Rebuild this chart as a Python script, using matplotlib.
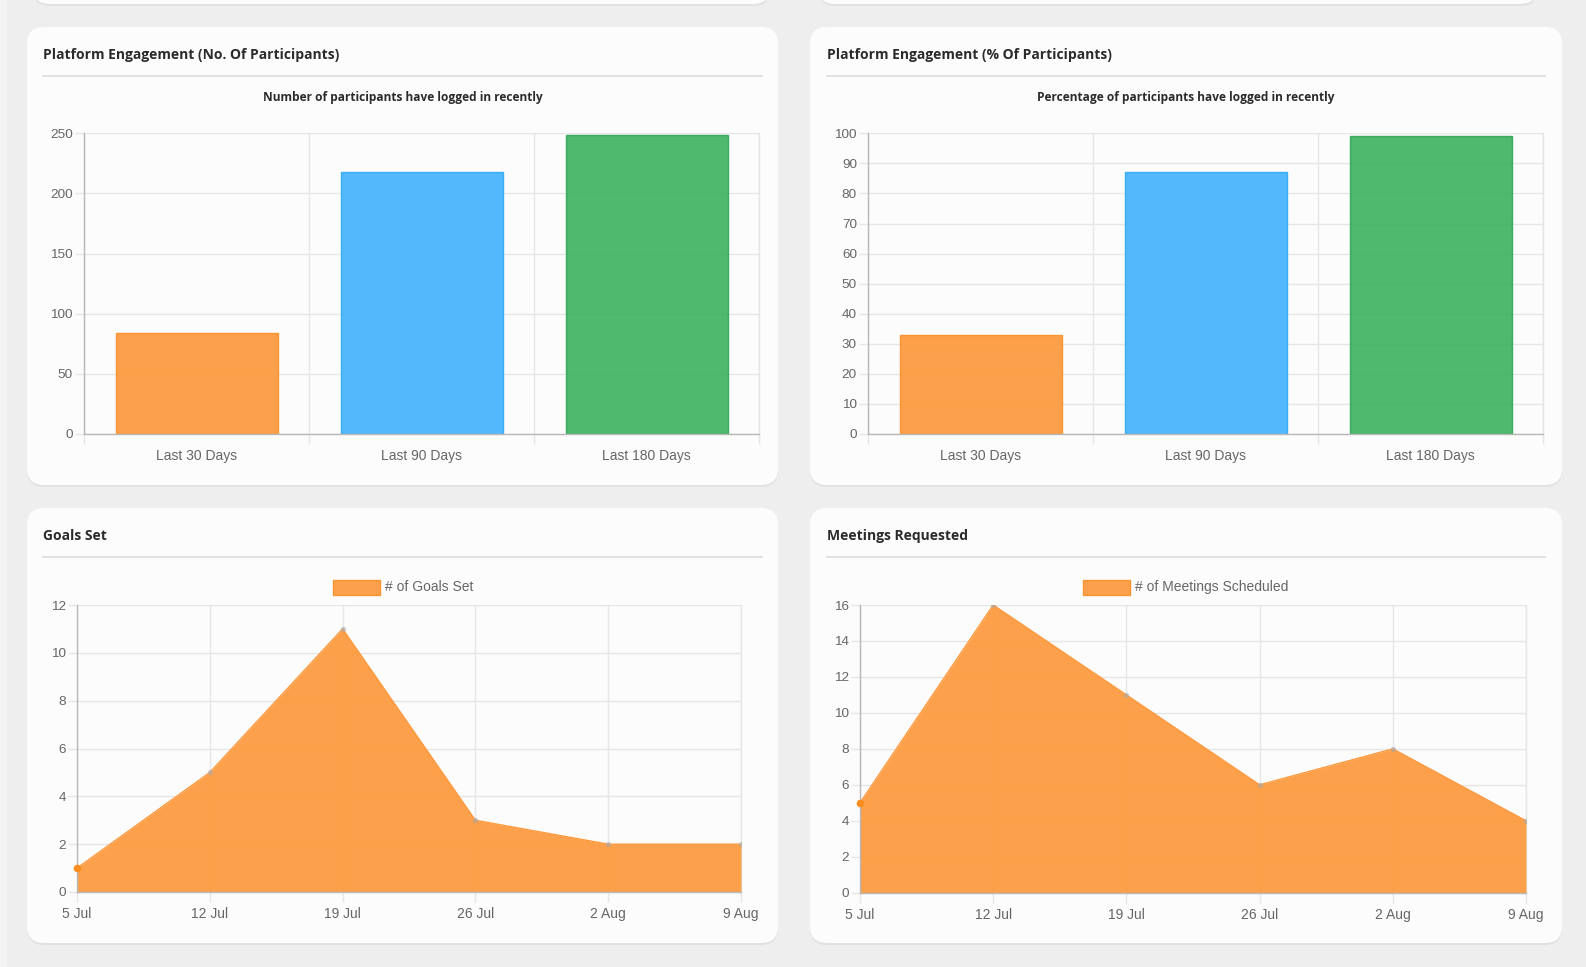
import matplotlib
matplotlib.use('Agg')
from matplotlib import pyplot as plt
from matplotlib.patches import FancyBboxPatch, Rectangle

# dashboard data
bar_labels = ['Last 30 Days', 'Last 90 Days', 'Last 180 Days']
logged_counts = [84, 218, 249]
logged_pct = [33, 87, 99]
bar_colors = ['#fd9432', '#3db0fd', '#37b05a']
bar_edges = ['#fd8c25', '#2ea6f7', '#2ea552']

week_labels = ['5 Jul', '12 Jul', '19 Jul', '26 Jul', '2 Aug', '9 Aug']
goals_set = [1, 5, 11, 3, 2, 2]
meetings_scheduled = [5, 16, 11, 6, 8, 4]

W, H = 1586, 967
BG = '#eeeeee'
CARD = '#fcfcfc'
GRID = '#e6e6e6'
AXIS = '#b8b8b8'
TICK_TXT = '#666666'
ORANGE = '#fd9432'

plt.rcParams['font.family'] = ['Liberation Sans', 'DejaVu Sans']

fig = plt.figure(figsize=(W / 100, H / 100), dpi=100)
fig.patch.set_facecolor(BG)

# background layer in pixel coordinates
bg = fig.add_axes([0, 0, 1, 1], zorder=0)
bg.set_xlim(0, W)
bg.set_ylim(H, 0)
bg.axis('off')
bg.add_patch(Rectangle((0, 0), 7, H, facecolor='#f4f4f4', edgecolor='none'))


def card(x0, y0, x1, y1):
    bg.add_patch(FancyBboxPatch((x0, y0 + 2), x1 - x0, y1 - y0,
                                boxstyle='round,pad=0,rounding_size=17',
                                facecolor='#d9d9d9', edgecolor='none', alpha=0.6))
    bg.add_patch(FancyBboxPatch((x0, y0), x1 - x0, y1 - y0,
                                boxstyle='round,pad=0,rounding_size=17',
                                facecolor=CARD, edgecolor='none'))


# bottoms of the row above
card(33, -60, 770, 4)
card(818, -60, 1537, 4)

cards = [(27, 27, 778, 485), (810, 27, 1562, 485),
         (27, 508, 778, 943), (810, 508, 1562, 943)]
for c in cards:
    card(*c)

title_font = dict(family=['Open Sans', 'DejaVu Sans'], fontweight='bold', color='#2b2b2b')


def header(x0, x1, y_text, y_line, text):
    bg.text(x0, y_text, text, fontsize=10, ha='left', va='center', **title_font)
    bg.plot([x0, x1], [y_line, y_line], color='#dcdcdc', lw=1.2)


header(43, 762, 55, 76, 'Platform Engagement (No. Of Participants)')
header(827, 1545, 55, 76, 'Platform Engagement (% Of Participants)')
header(43, 762, 536, 557, 'Goals Set')
header(827, 1545, 536, 557, 'Meetings Requested')

bg.text(403, 98, 'Number of participants have logged in recently', fontsize=8.6,
        ha='center', va='center', **title_font)
bg.text(1186, 98, 'Percentage of participants have logged in recently', fontsize=8.6,
        ha='center', va='center', **title_font)


def legend(cx, text):
    box_w, box_h, gap = 47, 15, 5
    label = bg.text(0, 587, text, fontsize=10, color=TICK_TXT, ha='left', va='center')
    fig.canvas.draw()
    tw = label.get_window_extent().width
    left = cx - (box_w + gap + tw) / 2
    bg.add_patch(Rectangle((left, 580), box_w, box_h, facecolor=ORANGE, alpha=0.88,
                           edgecolor='#fd8c25', lw=1))
    label.set_x(left + box_w + gap)


legend(403, '# of Goals Set')
legend(1186, '# of Meetings Scheduled')


def px_axes(x0, y0, x1, y1):
    ax = fig.add_axes([x0 / W, 1 - y1 / H, (x1 - x0) / W, (y1 - y0) / H], zorder=1)
    ax.set_facecolor('none')
    for side in ['top', 'right']:
        ax.spines[side].set_visible(False)
    for side in ['left', 'bottom']:
        ax.spines[side].set_color(AXIS)
        ax.spines[side].set_linewidth(1)
    ax.tick_params(axis='y', length=6.5, width=1, color=GRID, pad=1.5,
                   labelsize=9.7, labelcolor=TICK_TXT)
    ax.grid(True, color=GRID, lw=1)
    ax.set_axisbelow(True)
    return ax


def bar_chart(rect, values, ymax, ystep):
    ax = px_axes(*rect)
    pos = [i + 0.5 for i in range(len(values))]
    ax.bar(pos, values, width=0.72, color=bar_colors, edgecolor=bar_edges, lw=1,
           alpha=0.88, zorder=2)
    ax.set_xlim(0, len(values))
    ax.set_ylim(0, ymax)
    ax.set_yticks(range(0, ymax + 1, ystep))
    ax.set_xticks(range(len(values) + 1))
    ax.set_xticklabels([])
    ax.set_xticks(pos, minor=True)
    ax.set_xticklabels(bar_labels, minor=True)
    ax.tick_params(axis='x', which='major', length=7.5, width=1, color=GRID)
    ax.tick_params(axis='x', which='minor', length=0, pad=11, labelsize=10,
                   labelcolor=TICK_TXT)
    ax.plot([len(values)] * 2, [0, ymax], color=GRID, lw=1, zorder=1, clip_on=False)
    return ax


bar_chart((84, 133.3, 759, 434), logged_counts, 250, 50)
bar_chart((868, 133.3, 1543, 434), logged_pct, 100, 10)


def area_chart(rect, values, ymax):
    ax = px_axes(*rect)
    x = list(range(len(values)))
    ax.fill_between(x, 0, values, color=ORANGE, alpha=0.88, lw=0, zorder=2)
    ax.plot(x, values, color='#fd9a40', lw=1, zorder=3)
    ax.scatter(x[1:], values[1:], s=14, color='#a8a8a8', alpha=0.6, lw=0, zorder=4)
    ax.scatter(x[:1], values[:1], s=30, color='#fd8c1e', lw=0, zorder=4, clip_on=False)
    ax.set_xlim(0, len(values) - 1)
    ax.set_ylim(0, ymax)
    ax.set_yticks(range(0, ymax + 1, 2))
    ax.set_xticks(x)
    ax.set_xticklabels(week_labels)
    ax.tick_params(axis='x', length=7.5, width=1, color=GRID, pad=3.5,
                   labelsize=10, labelcolor=TICK_TXT)
    ax.plot([x[-1]] * 2, [0, ymax], color=GRID, lw=1, zorder=1, clip_on=False)
    return ax


area_chart((77, 605, 741, 892), goals_set, 12)
area_chart((860, 605, 1526, 892.7), meetings_scheduled, 16)

fig.savefig('out.png', dpi=100, facecolor=BG)
